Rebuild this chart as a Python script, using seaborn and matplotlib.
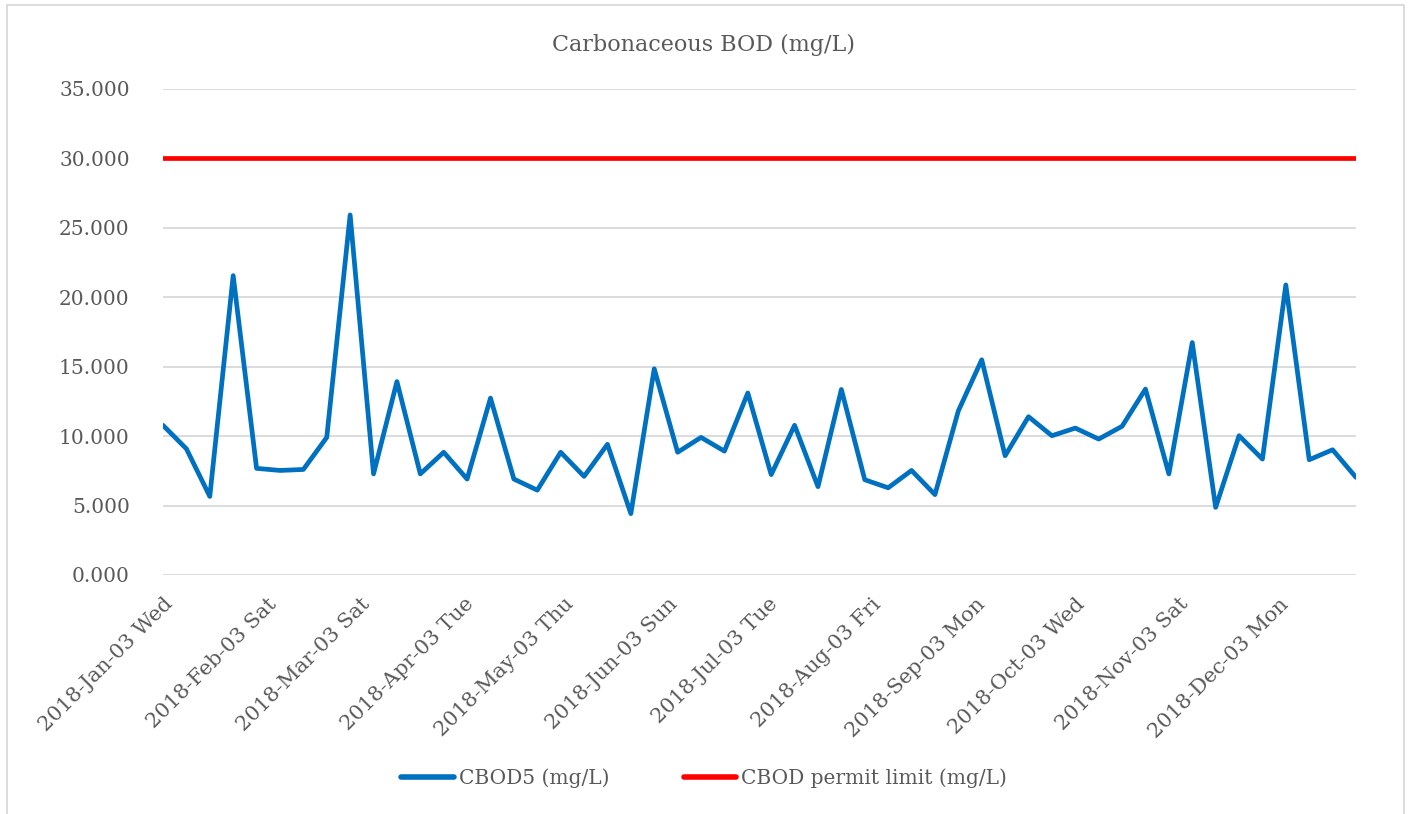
import pandas as pd
import numpy as np
import matplotlib
matplotlib.use("Agg")
import matplotlib.pyplot as plt
from matplotlib.patches import Rectangle
import seaborn as sns

# weekly sampling dates (Wednesdays)
dates = pd.date_range("2018-01-03", periods=52, freq="7D")

cbod5 = [10.78, 9.09, 5.66, 21.56, 7.68, 7.53, 7.60, 9.91, 25.93, 7.28,
         13.93, 7.28, 8.84, 6.91, 12.74, 6.91, 6.11, 8.84, 7.10, 9.41,
         4.42, 14.85, 8.84, 9.91, 8.92, 13.11, 7.23, 10.78, 6.36, 13.36,
         6.86, 6.28, 7.53, 5.79, 11.82, 15.50, 8.59, 11.40, 10.03, 10.58,
         9.79, 10.71, 13.39, 7.28, 16.74, 4.87, 10.03, 8.35, 20.89, 8.30,
         9.02, 7.03]
permit_limit = [30.0] * len(dates)

series_names = ["CBOD5 (mg/L)", "CBOD permit limit (mg/L)"]
series_colors = ["#0070C0", "#FF0000"]
# axis labels on the 3rd of every month
tick_dates = pd.date_range("2018-01-01", periods=12, freq="MS") + pd.Timedelta(days=2)

df = pd.DataFrame({
    "date": list(dates) * 2,
    "value": cbod5 + permit_limit,
    "series": [series_names[0]] * len(dates) + [series_names[1]] * len(dates),
})

sns.set_theme(style="white")
plt.rcParams["font.family"] = ["DejaVu Serif"]
text_color = "#595959"

fig = plt.figure(figsize=(14.08, 8.14), dpi=100)
ax = fig.add_axes([163 / 1408, 1 - 575 / 814, (1356 - 163) / 1408, (575 - 89) / 814])

sns.lineplot(data=df, x="date", y="value", hue="series", palette=series_colors,
             linewidth=3.4, ax=ax, legend=False)
for line in ax.lines:
    line.set_solid_capstyle("round")
    line.set_solid_joinstyle("round")

ax.set_yticks(np.arange(0, 36, 5))
ax.set_yticklabels([f"{v:.3f}" for v in np.arange(0, 36, 5)])
ax.set_xticks(tick_dates)
ax.set_xticklabels([d.strftime("%Y-%b-%d %a") for d in tick_dates],
                   rotation=45, ha="right", va="top", rotation_mode="anchor")
ax.set_xlim(dates[0], dates[-1])
ax.set_ylim(0, 35)
ax.tick_params(axis="y", length=0, labelsize=14.5, colors=text_color, pad=24)
ax.tick_params(axis="x", length=0, labelsize=15, colors=text_color, pad=14)
ax.yaxis.grid(True, color="#D9D9D9", linewidth=1.3)
ax.xaxis.grid(False)
ax.set_axisbelow(True)
for s in ax.spines.values():
    s.set_visible(False)
ax.set_xlabel("")
ax.set_ylabel("")

fig.text(0.5, 1 - 45 / 814, "Carbonaceous BOD (mg/L)", ha="center", va="center",
         fontsize=16, color=text_color)

handles = [plt.Line2D([], [], color=c, linewidth=4, solid_capstyle="round")
           for c in series_colors]
fig.legend(handles, series_names, loc="center", bbox_to_anchor=(0.5, 1 - 778 / 814),
           ncol=2, frameon=False, fontsize=14.5, handlelength=2.6, handletextpad=0.25,
           columnspacing=3.7, labelcolor=text_color)

# chart area frame
fig.patches.append(Rectangle((7 / 1408, -0.01), (1404 - 7) / 1408, 1.01 - 5 / 814,
                             transform=fig.transFigure, fill=False,
                             edgecolor="#D9D9D9", linewidth=1.3))

fig.savefig("out.png", dpi=100)
